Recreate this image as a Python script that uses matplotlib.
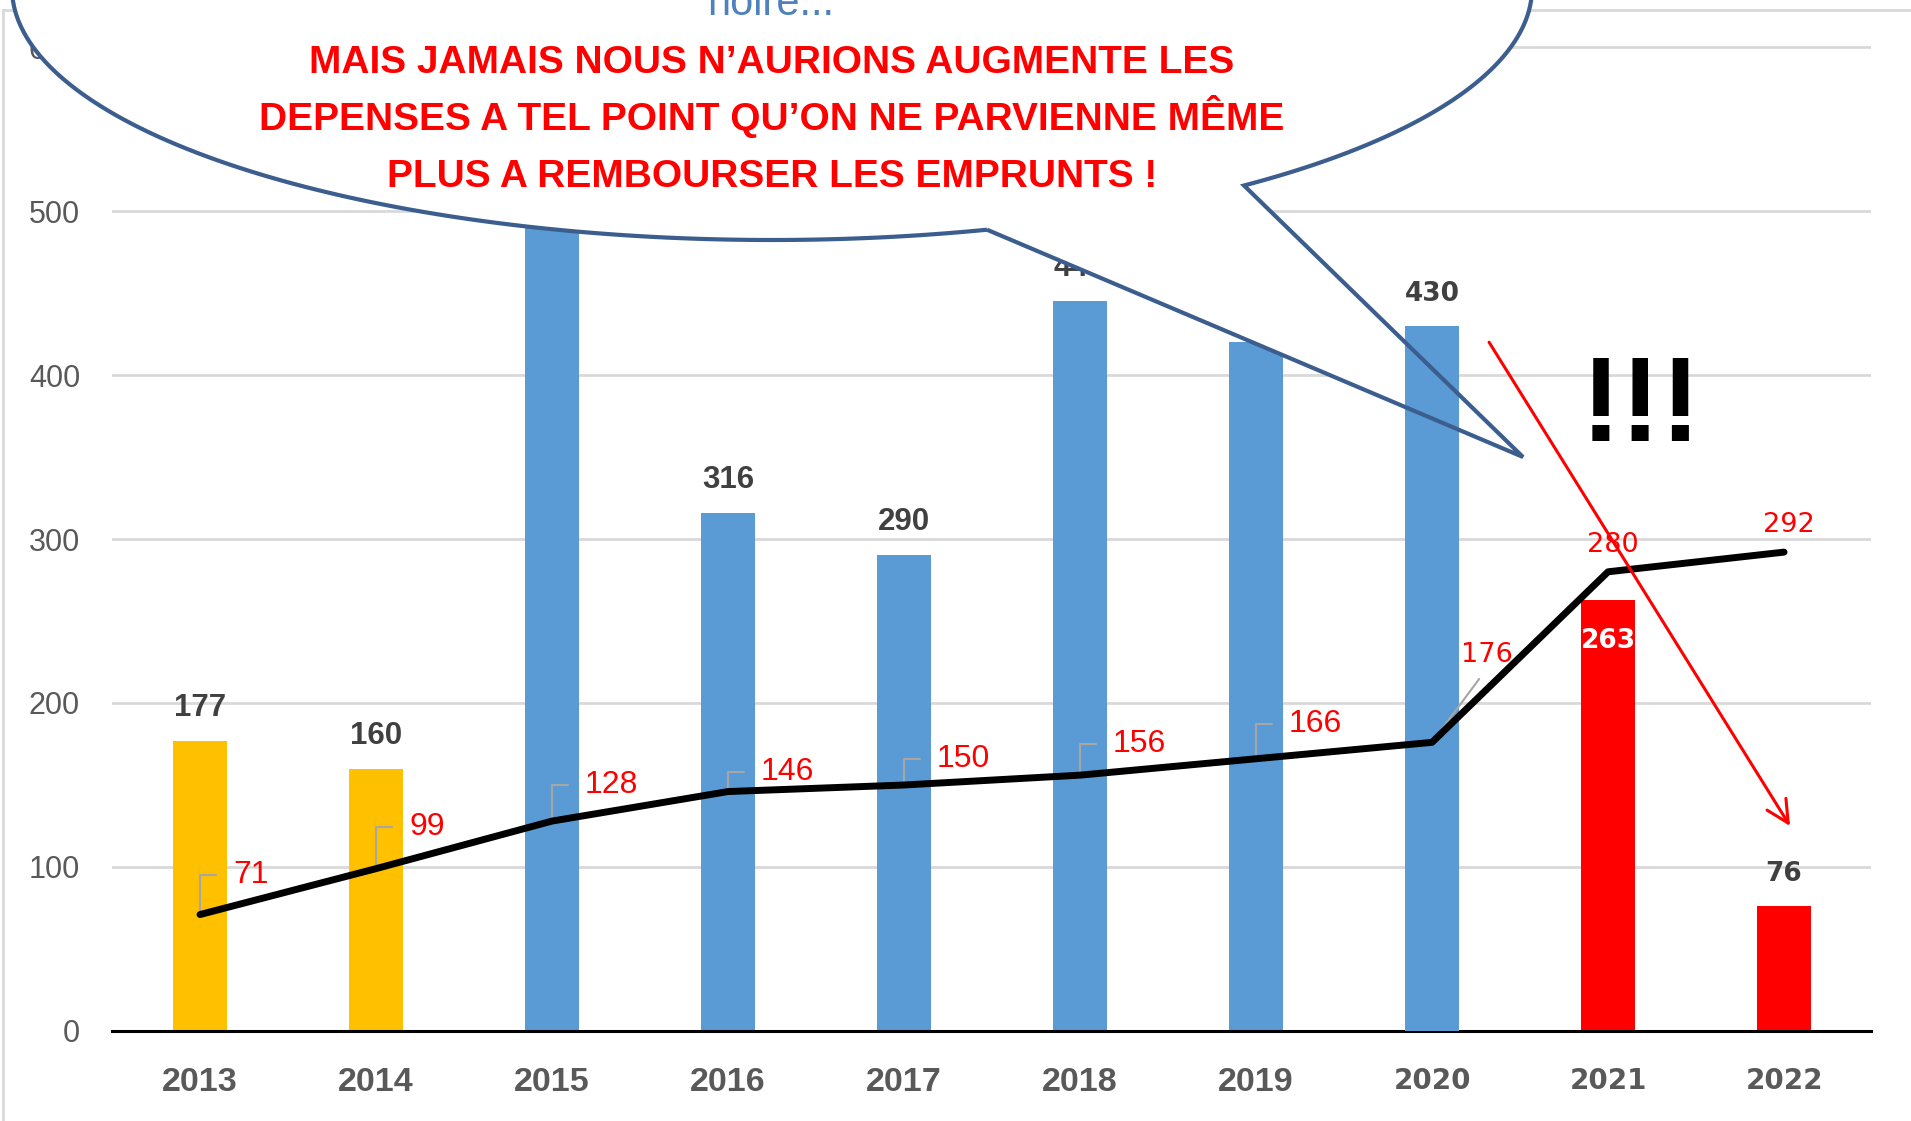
import numpy as np
import matplotlib.pyplot as plt
from matplotlib.patches import Polygon
from matplotlib.lines import Line2D

plt.rcParams['font.family'] = 'Liberation Sans'

W, H = 1911, 1121

years = ['2013', '2014', '2015', '2016', '2017', '2018', '2019', '2020', '2021', '2022']
bar_values = [177, 160, 530, 316, 290, 445, 420, 430, 263, 76]
line_values = [71, 99, 128, 146, 150, 156, 166, 176, 280, 292]

bar_colors = ['#FFC000'] * 2 + ['#5B9BD5'] * 6 + ['#FF0000'] * 2
label_rise = [32, 34, 28, 12, 18, 23, 27]   # px, baseline of red labels above the point
hidden_labels = [2, 6]                      # bar labels fully covered by the bubble

bubble_lines = ["MAIS JAMAIS NOUS N\u2019AURIONS AUGMENTE LES",
                "DEPENSES A TEL POINT QU\u2019ON NE PARVIENNE M\u00caME",
                "PLUS A REMBOURSER LES EMPRUNTS !"]

fig = plt.figure(figsize=(W / 100, H / 100), dpi=100)
ax = fig.add_axes([112 / W, 1 - 1031 / H, (1871 - 112) / W, 1031 / H])

x = np.arange(len(years))
bars = ax.bar(x, bar_values, width=0.31, color=bar_colors, zorder=2)
bars[7].set_zorder(5.5)   # 2020 bar shows through the bubble tail

ax.plot(x, line_values, color='black', lw=5, solid_capstyle='round',
        solid_joinstyle='round', zorder=5.7)

# bar labels
for i, v in enumerate(bar_values):
    if i in hidden_labels:
        continue
    if i < 7:
        ax.annotate(str(v), (i, v), xytext=(0, 25), textcoords='offset pixels',
                    ha='center', va='baseline', fontsize=22.5, fontweight='bold',
                    color='#404040', zorder=3)
    elif i == 8:
        ax.annotate(str(v), (i, v), xytext=(0, -48), textcoords='offset pixels',
                    ha='center', va='baseline', fontsize=19, fontweight='bold',
                    color='white', family='DejaVu Sans', zorder=3)
    else:
        ax.annotate(str(v), (i, v), xytext=(0, 25), textcoords='offset pixels',
                    ha='center', va='baseline', fontsize=19, fontweight='bold',
                    color='#404040', family='DejaVu Sans', zorder=6)

# line labels with leader lines
for i, v in enumerate(line_values):
    if i < 7:
        ax.annotate(str(v), (i, v), xytext=(33, label_rise[i]), textcoords='offset pixels',
                    ha='left', va='baseline', fontsize=23, color='#FF0000', zorder=5.6,
                    arrowprops=dict(arrowstyle='-', color='#A6A6A6', lw=1.5,
                                    shrinkA=10, shrinkB=0, relpos=(0, 0.5),
                                    connectionstyle='angle,angleA=180,angleB=90,rad=0'))
    elif i == 7:
        ax.annotate(str(v), (i, v), xytext=(55, 80), textcoords='offset pixels',
                    ha='center', va='baseline', fontsize=19.5, color='#FF0000',
                    family='DejaVu Sans', zorder=5.6,
                    arrowprops=dict(arrowstyle='-', color='#A6A6A6', lw=1.5,
                                    shrinkA=7, shrinkB=0, relpos=(0.5, 0)))
    else:
        ax.annotate(str(v), (i, v), xytext=(5, 20), textcoords='offset pixels',
                    ha='center', va='baseline', fontsize=19.5, color='#FF0000',
                    family='DejaVu Sans', zorder=5.8)

# speech bubble (figure pixel geometry)
cx, cy, a, b = 772, -12, 760, 252
ax_a, bx_b = 987, 1244
tip = (1523, 457)
thA = np.arccos((ax_a - cx) / a)
thB = np.arccos((bx_b - cx) / a)
th = np.linspace(thA, thB + 2 * np.pi, 500)
pts = [(cx + a * np.cos(t), cy + b * np.sin(t)) for t in th] + [tip]
pts = [(px / W, 1 - py / H) for px, py in pts]
ax.add_patch(Polygon(pts, closed=True, transform=fig.transFigure, facecolor='white',
                     edgecolor='none', zorder=5, clip_on=False))
ax.add_patch(Polygon(pts, closed=True, transform=fig.transFigure, facecolor='none',
                     edgecolor='#3B5E8F', lw=3, zorder=6, clip_on=False))

# chart frame
for xs, ys in [([3 / W, 3 / W], [1 - 10 / H, 0]), ([3 / W, 1], [1 - 10 / H, 1 - 10 / H])]:
    ax.add_line(Line2D(xs, ys, transform=fig.transFigure, color='#D9D9D9', lw=2,
                       zorder=0.1, clip_on=False))

# red arrow and exclamation marks
ax.annotate('', xy=(9.034, 125), xytext=(7.324, 420),
            arrowprops=dict(arrowstyle='->,head_length=0.8,head_width=0.4', color='#FF0000',
                            lw=2.2, shrinkA=0, shrinkB=0, mutation_scale=20), zorder=8)
ax.text(8.19, 360, '!!!', ha='center', va='baseline', fontsize=87, fontweight='bold',
        color='black', zorder=8)

# bubble text
fig.text(771 / W, 1 - 15 / H, 'noire...', ha='center', va='baseline', fontsize=30,
         color='#4F81BD')
for line, base in zip(bubble_lines, [73, 130, 187]):
    fig.text(772 / W, 1 - base / H, line, ha='center', va='baseline', fontsize=28,
             fontweight='bold', color='#FF0000')

# axes styling
ax.set_xlim(-0.5, 9.494)
ax.set_ylim(0, 1031 / 1.64)
ax.set_yticks(range(0, 700, 100))
ax.set_xticks(x)
ax.set_xticklabels(years)
ax.yaxis.grid(True, color='#D9D9D9', lw=2)
ax.set_axisbelow(True)
for s in ['left', 'right', 'top']:
    ax.spines[s].set_visible(False)
ax.spines['bottom'].set_color('black')
ax.spines['bottom'].set_linewidth(2.2)
ax.tick_params(length=0)
ax.tick_params(axis='y', pad=23, labelsize=22, labelcolor='#595959')
ax.tick_params(axis='x', pad=26, labelcolor='#595959')
for i, lab in enumerate(ax.get_xticklabels()):
    if i < 7:
        lab.set_fontsize(24.5)
        lab.set_fontweight('bold')
    else:
        lab.set_family('DejaVu Sans')
        lab.set_fontsize(20)
        lab.set_fontweight('bold')

fig.savefig('out.png', dpi=100, facecolor='white')
